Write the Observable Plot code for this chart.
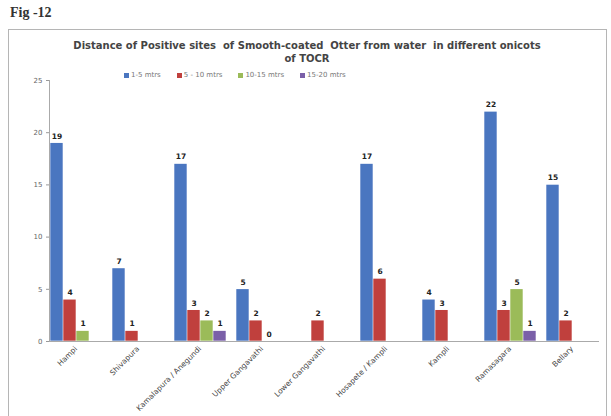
<!DOCTYPE html>
<html><head><meta charset="utf-8">
<script src="https://cdn.jsdelivr.net/npm/d3@7"></script>
<script src="https://cdn.jsdelivr.net/npm/@observablehq/plot@0.6"></script>
<style>
body{margin:0;background:#fff;width:611px;height:416px;overflow:hidden;position:relative;font-family:"DejaVu Sans",sans-serif}
#fig{position:absolute;left:10px;top:5px;font:bold 14px "Liberation Serif",serif;color:#333}
#box{position:absolute;left:8px;top:29px;width:599px;height:390px;border:1px solid #b5b5b5;box-sizing:border-box}
#title{position:absolute;left:8px;top:39px;width:598px;text-align:center;font:bold 10px "DejaVu Sans",sans-serif;color:#444;line-height:13px}
#legend{position:absolute;left:124px;top:71px;font:7px "DejaVu Sans",sans-serif;color:#777;display:flex;gap:16px}
#legend span i{display:inline-block;width:5px;height:5px;margin-right:2px;vertical-align:middle}
#chart{position:absolute;left:8px;top:70px}
</style></head><body>
<div id="fig">Fig -12</div>
<div id="box"></div>
<div id="title">Distance of Positive sites &nbsp;of Smooth-coated &nbsp;Otter from water &nbsp;in different onicots<br>of TOCR</div>
<div id="legend"></div>
<div id="chart"></div>
<script>
const categories = ["Hampi","Shivapura","Kamalapura / Anegundi","Upper Gangavathi","Lower Gangavathi","Hosapete / Kampli","Kampli","Ramasagara","Bellary"];
const series = ["1-5 mtrs","5 - 10 mtrs","10-15 mtrs","15-20 mtrs"];
const colors = ["#4a76c0","#c0403d","#9bbb59","#7a5fa8"];
// values per series, null = no bar / no label
const s1 = [19, 7, 17, 5, null, 17, 4, 22, 15];
const s2 = [4, 1, 3, 2, 2, 6, 3, 3, 2];
const s3 = [1, null, 2, 0, null, null, null, 5, null];
const s4 = [null, null, 1, null, null, null, null, 1, null];
const yTicks = [0, 5, 10, 15, 20, 25];

const all = [s1, s2, s3, s4];
const data = [];
categories.forEach((c, i) => all.forEach((s, j) => {
  if (s[i] !== null) data.push({cat: c, ser: series[j], v: s[i]});
}));

const leg = document.getElementById("legend");
series.forEach((s, j) => {
  const e = document.createElement("span");
  e.innerHTML = `<i style="background:${colors[j]}"></i>${s}`;
  leg.appendChild(e);
});

const chart = Plot.plot({
  width: 603, height: 346,
  marginTop: 10, marginBottom: 75, marginLeft: 35, marginRight: 6,
  style: {fontFamily: "DejaVu Sans, sans-serif", fontSize: "7px", color: "#666", background: "transparent"},
  fx: {domain: categories, paddingInner: 0.14, paddingOuter: 0.07, label: null},
  x: {domain: series, padding: 0, axis: null},
  y: {domain: [0, 25], label: null},
  color: {domain: series, range: colors},
  marks: [
    Plot.axisY({ticks: yTicks, tickSize: 3, tickPadding: 4, fontSize: 7, stroke: "#999"}),
    Plot.axisFx({anchor: "bottom", tickRotate: -45, tickSize: 0, tickPadding: 6, fontSize: 7.5, fill: "#444", textAnchor: "end"}),
    Plot.frame({facet: "super", anchor: "bottom", stroke: "#aaa"}),
    Plot.frame({facet: "super", anchor: "left", stroke: "#aaa"}),
    Plot.barY(data, {fx: "cat", x: "ser", y: "v", fill: "ser", inset: 0.3}),
    Plot.text(data, {fx: "cat", x: "ser", y: "v", text: d => String(d.v), dy: -7, fontSize: 7.5, fontWeight: "bold", fill: "#222"})
  ]
});
document.getElementById("chart").appendChild(chart);
</script>
</body></html>
